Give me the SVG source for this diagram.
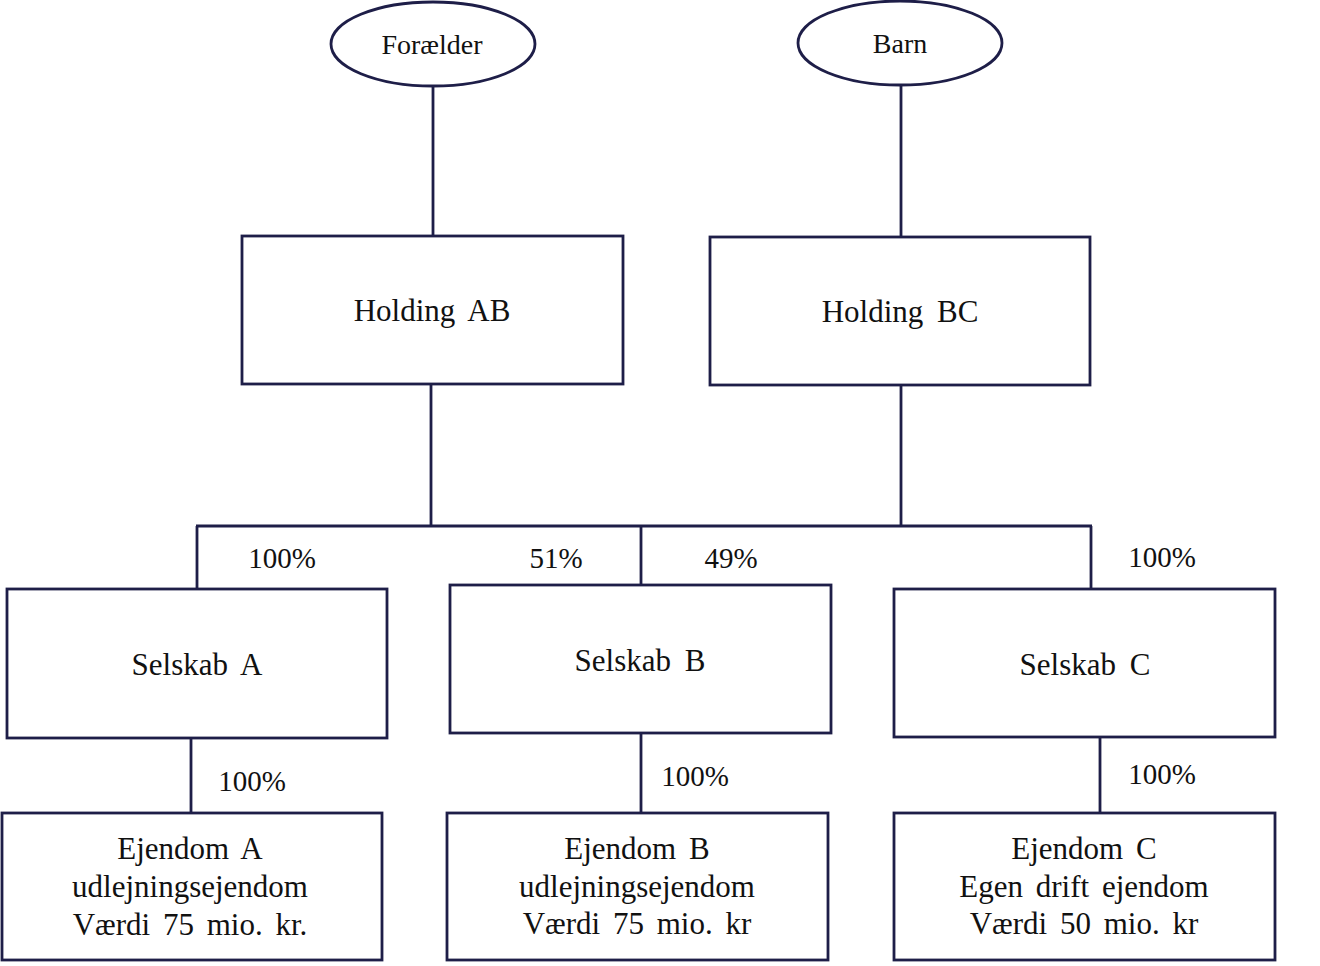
<svg xmlns="http://www.w3.org/2000/svg" width="1320" height="966" viewBox="0 0 1320 966">
<style>
.s{fill:#fff;stroke:#1e1e48;stroke-width:2.8}
.c line{stroke:#1e1e48;stroke-width:2.8}
text{font-family:"Liberation Serif","Times New Roman",serif;font-size:31px;fill:#111;text-anchor:middle;word-spacing:6px}
.e{font-size:28px}
.b{font-size:31px;word-spacing:5px}
.p{font-size:29px}
</style>
<rect width="1320" height="966" fill="#fff"/>
<g class="c" id="connectors">
<line x1="433" y1="86" x2="433" y2="236"/>
<line x1="901" y1="85" x2="901" y2="237"/>
<line x1="431" y1="384" x2="431" y2="526"/>
<line x1="901" y1="385" x2="901" y2="526"/>
<line x1="196" y1="526" x2="1092" y2="526"/>
<line x1="197" y1="526" x2="197" y2="589"/>
<line x1="641" y1="526" x2="641" y2="585"/>
<line x1="1091" y1="526" x2="1091" y2="589"/>
<line x1="191" y1="738" x2="191" y2="813"/>
<line x1="641" y1="733" x2="641" y2="813"/>
<line x1="1100" y1="737" x2="1100" y2="813"/>
<text class="p" x="282" y="568">100%</text>
<text class="p" x="556" y="568">51%</text>
<text class="p" x="731" y="568">49%</text>
<text class="p" x="1162" y="567">100%</text>
<text class="p" x="252" y="791">100%</text>
<text class="p" x="695" y="786">100%</text>
<text class="p" x="1162" y="784">100%</text>
</g>
<g id="foraelder"><ellipse class="s" cx="433" cy="44" rx="102" ry="42"/><text class="e" x="432" y="54">Forælder</text></g>
<g id="barn"><ellipse class="s" cx="900" cy="43" rx="102" ry="42"/><text class="e" x="900" y="53">Barn</text></g>
<g id="holdingAB"><rect class="s" x="242" y="236" width="381" height="148"/><text x="432" y="321">Holding AB</text></g>
<g id="holdingBC"><rect class="s" x="710" y="237" width="380" height="148"/><text x="900" y="322">Holding BC</text></g>
<g id="selskabA"><rect class="s" x="7" y="589" width="380" height="149"/><text x="197" y="675">Selskab A</text></g>
<g id="selskabB"><rect class="s" x="450" y="585" width="381" height="148"/><text x="640" y="671">Selskab B</text></g>
<g id="selskabC"><rect class="s" x="894" y="589" width="381" height="148"/><text x="1085" y="675">Selskab C</text></g>
<g id="ejendomA"><rect class="s" x="2" y="813" width="380" height="147"/>
<text class="b" x="190" y="859">Ejendom A</text><text class="b" x="190" y="897">udlejningsejendom</text><text class="b" x="190" y="935">Værdi 75 mio. kr.</text></g>
<g id="ejendomB"><rect class="s" x="447" y="813" width="381" height="147"/>
<text class="b" x="637" y="859">Ejendom B</text><text class="b" x="637" y="897">udlejningsejendom</text><text class="b" x="637" y="934">Værdi 75 mio. kr</text></g>
<g id="ejendomC"><rect class="s" x="894" y="813" width="381" height="147"/>
<text class="b" x="1084" y="859">Ejendom C</text><text class="b" x="1084" y="897">Egen drift ejendom</text><text class="b" x="1084" y="934">Værdi 50 mio. kr</text></g>
</svg>
